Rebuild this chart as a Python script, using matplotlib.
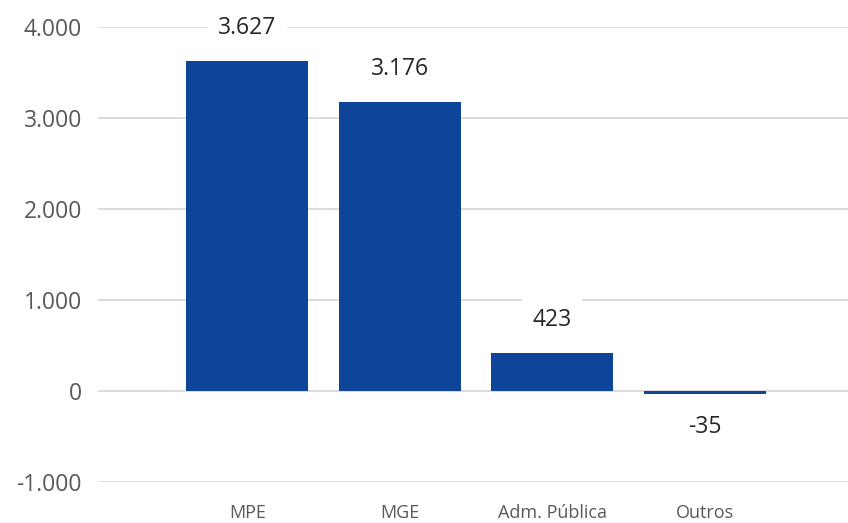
import numpy as np
import matplotlib.pyplot as plt
from matplotlib.ticker import FuncFormatter

plt.rcParams['font.family'] = ['Open Sans', 'DejaVu Sans']

categorias = ['MPE', 'MGE', 'Adm. Pública', 'Outros']
valores = [3627, 3176, 423, -35]
yticks = [-1000, 0, 1000, 2000, 3000, 4000]


def fmt(v):
    return '{:,.0f}'.format(v).replace(',', '.')


fig = plt.figure(figsize=(8.48, 5.23), dpi=100)
ax = fig.add_axes([0.1156, 0.0784, 0.8844, 0.87])

x = np.arange(len(categorias))
ax.bar(x, valores, width=0.8, color='#0f4599', zorder=2)

for xi, v in zip(x, valores):
    off = 23.5 if v >= 0 else -23.5
    ax.annotate(fmt(v), (xi, v), xytext=(0, off), textcoords='offset points',
                ha='center', va='center', fontsize=16.5, color='#262626',
                bbox=dict(boxstyle='square,pad=0.45', fc='white', ec='none'),
                zorder=3)

ax.set_xlim(-0.98, 3.94)
ax.set_ylim(-1000, 4000)
ax.set_yticks(yticks)
ax.yaxis.set_major_formatter(FuncFormatter(lambda v, p: fmt(v)))
ax.set_xticks(x)
ax.set_xticklabels(categorias)

ax.grid(axis='y', color='#d9d9d9', linewidth=1.3, zorder=0)
for s in ax.spines.values():
    s.set_visible(False)
ax.tick_params(axis='y', length=0, pad=11.5, labelsize=16.5, labelcolor='#595959')
ax.tick_params(axis='x', length=0, pad=16, labelsize=13, labelcolor='#595959')

fig.savefig('out.png', dpi=100)
